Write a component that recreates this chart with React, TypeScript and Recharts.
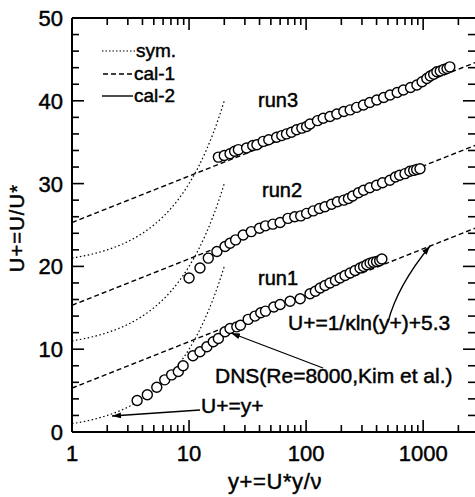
import { ComposedChart, Line, Scatter, XAxis, YAxis } from 'recharts';

const FONT = '"Liberation Sans", Arial, Helvetica, sans-serif';

// axis ticks
const X_TICKS = [
  1, 2, 3, 4, 5, 6, 7, 8, 9, 10, 20, 30, 40, 50, 60, 70, 80, 90, 100, 200, 300, 400, 500,
  600, 700, 800, 900, 1000, 2000, 3000,
];
const X_LABELS = [1, 10, 100, 1000];
const Y_TICKS = [
  0, 2, 4, 6, 8, 10, 12, 14, 16, 18, 20, 22, 24, 26, 28, 30, 32, 34, 36, 38, 40, 42, 44, 46, 48, 50,
];
const Y_LABELS = [0, 10, 20, 30, 40, 50];

// sym. : U+ = y+ (shifted by 10 per run)
const SYM_X = [1, 1.5, 2, 3, 4, 5, 6, 7, 8, 10, 12, 14, 16, 18, 20];
const SYM_RUN1 = [1, 1.5, 2, 3, 4, 5, 6, 7, 8, 10, 12, 14, 16, 18, 20];
const SYM_RUN2 = [11, 11.5, 12, 13, 14, 15, 16, 17, 18, 20, 22, 24, 26, 28, 30];
const SYM_RUN3 = [21, 21.5, 22, 23, 24, 25, 26, 27, 28, 30, 32, 34, 36, 38, 40];

// cal-1 : U+ = 1/k ln(y+) + 5.3 (shifted by 10 per run)
const LOG_X = [1, 3000];
const LOG_RUN1 = [5.3, 24.8];
const LOG_RUN2 = [15.3, 34.8];
const LOG_RUN3 = [25.3, 44.8];

// measured profiles [y+, U+]
const RUN1 = [
  [3.6, 3.8], [4.4, 4.5], [5.3, 5.4], [6.2, 6.3], [7.1, 6.9], [8.1, 7.3], [8.9, 8.0],
  [10.8, 9.2], [12.4, 9.7], [14.2, 10.3], [16.1, 10.9], [17.8, 11.3], [20.3, 12.1],
  [22.4, 12.5], [25.6, 12.7], [27.5, 12.9], [32, 13.6], [36.6, 14.0], [41, 14.4], [45, 14.6],
  [53, 15.1], [60, 15.4], [73, 15.8], [89, 16.1], [108, 16.7], [120, 17.0], [132, 17.4],
  [145, 17.7], [160, 18.0], [178, 18.3], [195, 18.6], [215, 18.9], [238, 19.2], [262, 19.5],
  [289, 19.8], [310, 20.0], [330, 20.2], [352, 20.4], [375, 20.5], [400, 20.6], [425, 20.7],
  [444, 20.9],
];
const RUN2 = [
  [10, 18.6], [12.4, 19.8], [14.6, 21.0], [17.3, 21.8], [20.3, 22.4], [22.4, 22.8], [25, 23.2],
  [29, 23.8], [34, 24.2], [40, 24.6], [45, 24.9], [52, 25.1], [60, 25.3], [70, 25.8],
  [80, 26.0], [90, 26.1], [101, 26.4], [115, 26.7], [130, 27.0], [145, 27.2], [165, 27.5],
  [185, 27.8], [210, 28.0], [230, 28.2], [250, 28.5], [280, 28.9], [310, 29.2], [350, 29.5],
  [400, 29.8], [450, 30.1], [520, 30.4], [580, 30.8], [630, 31.0], [700, 31.2], [770, 31.5],
  [830, 31.6], [880, 31.7], [940, 31.8],
];
const RUN3 = [
  [17.8, 33.2], [20, 33.4], [22.4, 33.6], [24.5, 33.9], [26.4, 34.1], [31, 34.3], [35, 34.6],
  [38, 34.7], [43, 35.1], [48, 35.3], [56, 35.6], [62, 35.8], [68, 36.0], [75, 36.2],
  [83, 36.5], [92, 36.7], [101, 36.9], [108, 37.2], [125, 37.6], [140, 37.9], [160, 38.1],
  [183, 38.4], [210, 38.7], [238, 38.9], [270, 39.2], [309, 39.5], [350, 39.8], [402, 40.1],
  [460, 40.4], [522, 40.7], [600, 41.0], [678, 41.3], [780, 41.6], [885, 41.9], [980, 42.3],
  [1075, 42.7], [1150, 43.0], [1230, 43.2], [1310, 43.5], [1400, 43.6], [1500, 43.8],
  [1600, 43.9], [1690, 44.1],
];

const zip = (xs: number[], us: number[]) => xs.map((x, i) => ({ x, u: us[i] }));
const pts = (rows: number[][]) => rows.map(([x, u]) => ({ x, u }));

// scanned look: a hairline outline makes the type a bit heavier
const ink = { fill: '#000', stroke: '#000', strokeWidth: 0.45, fontFamily: FONT };

const bottomTick = (props: any) => {
  const { x, y, payload } = props;
  const major = X_LABELS.includes(payload.value);
  return (
    <g>
      <line x1={x} x2={x} y1={y} y2={y - (major ? 12 : 7)} stroke="#000" strokeWidth={1.6} />
      {major && (
        <text x={x} y={y + 29} textAnchor="middle" fontSize={22} {...ink}>
          {payload.value}
        </text>
      )}
    </g>
  );
};

const topTick = (props: any) => {
  const { x, y, payload } = props;
  const major = X_LABELS.includes(payload.value);
  return <line x1={x} x2={x} y1={y} y2={y + (major ? 12 : 7)} stroke="#000" strokeWidth={1.6} />;
};

const leftTick = (props: any) => {
  const { x, y, payload } = props;
  const major = Y_LABELS.includes(payload.value);
  return (
    <g>
      <line x1={x} x2={x + (major ? 12 : 7)} y1={y} y2={y} stroke="#000" strokeWidth={1.6} />
      {major && (
        <text x={x - 9} y={y + 8} textAnchor="end" fontSize={22} {...ink}>
          {payload.value}
        </text>
      )}
    </g>
  );
};

const rightTick = (props: any) => {
  const { x, y, payload } = props;
  const major = Y_LABELS.includes(payload.value);
  return <line x1={x} x2={x - (major ? 16 : 11)} y1={y} y2={y} stroke="#000" strokeWidth={1.6} />;
};

const ring = (p: any) => (
  <circle cx={p.cx} cy={p.cy} r={5} fill="#fff" stroke="#000" strokeWidth={1.4} />
);

const axisLine = { stroke: '#000', strokeWidth: 2 };

export default function App() {
  const dotted = { stroke: '#000', strokeWidth: 1.2, strokeDasharray: '1.5 2.5', dot: false };
  const dashed = { stroke: '#000', strokeWidth: 1.4, strokeDasharray: '5 3', dot: false };

  return (
    <div
      style={{
        position: 'fixed', left: 0, top: 0, width: 475, height: 497,
        overflow: 'hidden', background: '#fff',
      }}
    >
      <ComposedChart width={490} height={497} margin={{ top: 17, right: 10, bottom: 1, left: 0 }}>
        <XAxis
          xAxisId="b" dataKey="x" type="number" scale="log" domain={[1, 3000]} allowDataOverflow
          ticks={X_TICKS} interval={0} tickSize={0} tickMargin={0} tickLine={false}
          tick={bottomTick} height={64} axisLine={axisLine}
        />
        <XAxis
          xAxisId="t" orientation="top" dataKey="x" type="number" scale="log" domain={[1, 3000]}
          allowDataOverflow ticks={X_TICKS} interval={0} tickSize={0} tickMargin={0}
          tickLine={false} tick={topTick} height={1} axisLine={axisLine}
        />
        <YAxis
          yAxisId="l" dataKey="u" type="number" domain={[0, 50]} allowDataOverflow
          ticks={Y_TICKS} interval={0} tickSize={0} tickMargin={0} tickLine={false}
          tick={leftTick} width={72} axisLine={axisLine}
        />
        <YAxis
          yAxisId="r" orientation="right" dataKey="u" type="number" domain={[0, 50]}
          allowDataOverflow ticks={Y_TICKS} interval={0} tickSize={0} tickMargin={0}
          tickLine={false} tick={rightTick} width={1} axisLine={axisLine}
        />

        <Scatter xAxisId="b" yAxisId="l" data={pts(RUN1)} shape={ring} isAnimationActive={false} />
        <Scatter xAxisId="b" yAxisId="l" data={pts(RUN2)} shape={ring} isAnimationActive={false} />
        <Scatter xAxisId="b" yAxisId="l" data={pts(RUN3)} shape={ring} isAnimationActive={false} />

        <Line xAxisId="b" yAxisId="l" data={zip(SYM_X, SYM_RUN1)} dataKey="u" type="monotone" {...dotted} isAnimationActive={false} />
        <Line xAxisId="b" yAxisId="l" data={zip(SYM_X, SYM_RUN2)} dataKey="u" type="monotone" {...dotted} isAnimationActive={false} />
        <Line xAxisId="b" yAxisId="l" data={zip(SYM_X, SYM_RUN3)} dataKey="u" type="monotone" {...dotted} isAnimationActive={false} />
        <Line xAxisId="b" yAxisId="l" data={zip(LOG_X, LOG_RUN1)} dataKey="u" type="linear" {...dashed} isAnimationActive={false} />
        <Line xAxisId="b" yAxisId="l" data={zip(LOG_X, LOG_RUN2)} dataKey="u" type="linear" {...dashed} isAnimationActive={false} />
        <Line xAxisId="b" yAxisId="l" data={zip(LOG_X, LOG_RUN3)} dataKey="u" type="linear" {...dashed} isAnimationActive={false} />
      </ComposedChart>

      <svg
        width={475}
        height={497}
        style={{ position: 'absolute', left: 0, top: 0, pointerEvents: 'none' }}
      >
        <defs>
          <marker id="head" markerWidth={9} markerHeight={6} refX={9} refY={3} orient="auto" markerUnits="userSpaceOnUse">
            <path d="M0,0 L9,3 L0,6 z" fill="#000" />
          </marker>
        </defs>

        {/* legend */}
        <line x1={102} x2={135} y1={51} y2={51} stroke="#000" strokeWidth={1.2} strokeDasharray="1.5 2" />
        <text x={136} y={57} fontSize={19} {...ink}>sym.</text>
        <line x1={103} x2={133} y1={74} y2={74} stroke="#000" strokeWidth={1.4} strokeDasharray="5 3" />
        <text x={134} y={80} fontSize={19} {...ink}>cal-1</text>
        <line x1={102} x2={133} y1={96} y2={96} stroke="#000" strokeWidth={1.4} />
        <text x={134} y={102} fontSize={19} {...ink}>cal-2</text>

        {/* run labels */}
        <text x={258} y={107} fontSize={20} {...ink}>run3</text>
        <text x={262} y={197} fontSize={20} {...ink}>run2</text>
        <text x={258} y={285} fontSize={20} {...ink}>run1</text>

        {/* annotations */}
        <path d="M388,322 C395,295 412,268 430,246" stroke="#000" strokeWidth={1.3} fill="none" markerEnd="url(#head)" />
        <text x={288} y={330} fontSize={21} {...ink}>U+=1/κln(y+)+5.3</text>
        <line x1={323} y1={368} x2={231} y2={333} stroke="#000" strokeWidth={1.3} markerEnd="url(#head)" />
        <text x={215} y={383} fontSize={21} {...ink}>DNS(Re=8000,Kim et al.)</text>
        <line x1={200} y1={410} x2={112} y2={416} stroke="#000" strokeWidth={1.3} markerEnd="url(#head)" />
        <text x={201} y={413} fontSize={21} {...ink}>U+=y+</text>

        {/* axis titles */}
        <text x={275} y={489} fontSize={22} letterSpacing={0.6} textAnchor="middle" {...ink}>y+=U*y/ν</text>
        <text x={24} y={228} fontSize={20} letterSpacing={1.2} textAnchor="middle" transform="rotate(-90 24 228)" {...ink}>U+=U/U*</text>
      </svg>
    </div>
  );
}
